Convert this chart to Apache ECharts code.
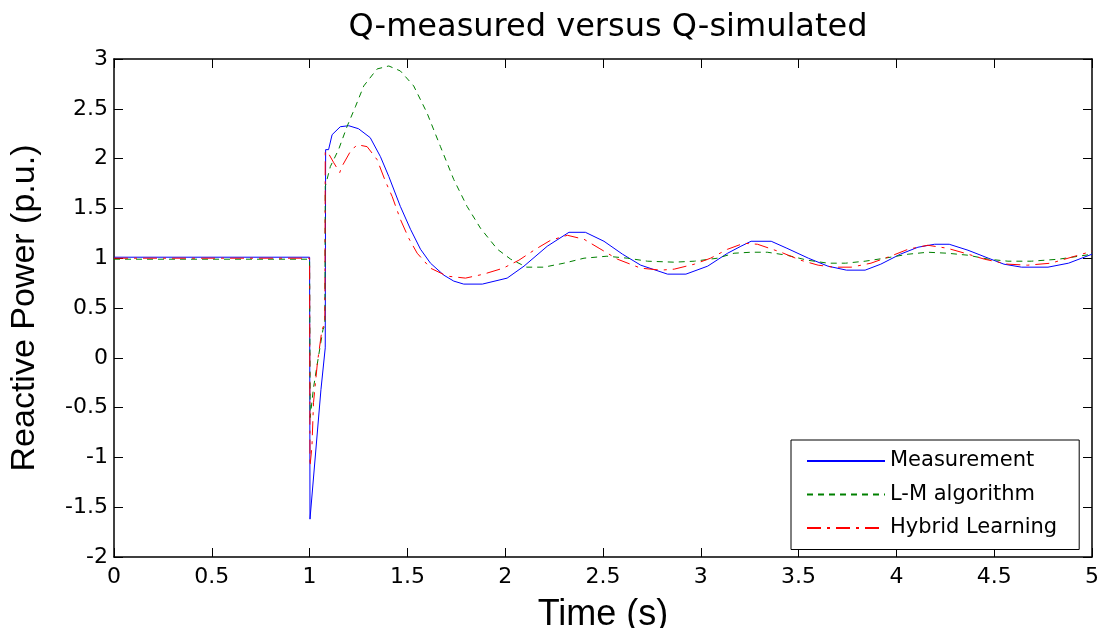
<!DOCTYPE html>
<html>
<head>
<meta charset="utf-8">
<script src="https://cdn.jsdelivr.net/npm/echarts@6/dist/echarts.min.js"></script>
<style>
html,body{margin:0;padding:0;background:#fff;}
#chart{width:1105px;height:628px;}
</style>
</head>
<body>
<div id="chart"></div>
<script>
// ---- data ----
var seriesNames = ['Measurement', 'L-M algorithm', 'Hybrid Learning'];

var measX = [0, 1.0, 1.002, 1.058, 1.08, 1.082, 1.097, 1.115, 1.157, 1.2, 1.25, 1.31, 1.362, 1.405, 1.464, 1.516, 1.567, 1.618, 1.686, 1.737, 1.788, 1.883, 2.01, 2.096, 2.215, 2.326, 2.41, 2.505, 2.6, 2.693, 2.83, 2.924, 3.035, 3.137, 3.205, 3.257, 3.36, 3.44, 3.55, 3.65, 3.745, 3.84, 3.92, 4.02, 4.11, 4.195, 4.27, 4.366, 4.47, 4.55, 4.64, 4.775, 4.88, 5.0];
var measY = [1.01, 1.01, -1.62, -0.32, 0.10, 2.09, 2.09, 2.24, 2.32, 2.33, 2.30, 2.21, 2.02, 1.82, 1.52, 1.29, 1.09, 0.95, 0.83, 0.77, 0.74, 0.74, 0.80, 0.92, 1.12, 1.26, 1.26, 1.17, 1.04, 0.93, 0.84, 0.84, 0.92, 1.05, 1.12, 1.17, 1.17, 1.10, 1.00, 0.92, 0.88, 0.88, 0.94, 1.04, 1.11, 1.14, 1.14, 1.08, 1.00, 0.94, 0.91, 0.91, 0.95, 1.04];

var lmX = [0, 1.0, 1.003, 1.02, 1.046, 1.068, 1.078, 1.08, 1.106, 1.148, 1.191, 1.234, 1.277, 1.345, 1.405, 1.464, 1.532, 1.60, 1.669, 1.737, 1.805, 1.874, 1.96, 2.028, 2.11, 2.198, 2.30, 2.403, 2.52, 2.625, 2.727, 2.864, 2.967, 3.085, 3.17, 3.257, 3.34, 3.44, 3.545, 3.65, 3.74, 3.84, 3.94, 4.06, 4.16, 4.26, 4.366, 4.47, 4.57, 4.69, 4.83, 5.0];
var lmY = [0.99, 0.99, -0.60, -0.30, 0.02, 0.28, 0.33, 1.72, 1.92, 2.09, 2.32, 2.52, 2.73, 2.90, 2.93, 2.88, 2.73, 2.46, 2.12, 1.79, 1.52, 1.30, 1.09, 0.99, 0.91, 0.91, 0.95, 1.00, 1.02, 1.00, 0.97, 0.96, 0.97, 1.00, 1.05, 1.06, 1.06, 1.03, 0.98, 0.95, 0.95, 0.97, 1.00, 1.04, 1.06, 1.05, 1.03, 0.99, 0.97, 0.97, 0.99, 1.04];

var hybX = [0, 1.0, 1.002, 1.012, 1.02, 1.04, 1.063, 1.078, 1.08, 1.097, 1.123, 1.154, 1.165, 1.208, 1.243, 1.294, 1.345, 1.388, 1.422, 1.464, 1.507, 1.55, 1.618, 1.703, 1.797, 1.89, 1.99, 2.07, 2.155, 2.232, 2.318, 2.403, 2.48, 2.574, 2.693, 2.796, 2.864, 2.967, 3.05, 3.137, 3.22, 3.29, 3.41, 3.51, 3.60, 3.68, 3.77, 3.87, 3.97, 4.06, 4.16, 4.26, 4.35, 4.45, 4.57, 4.67, 4.79, 4.895, 5.0];
var hybY = [1.0, 1.0, -1.09, -0.89, -0.45, -0.05, 0.28, 0.35, 2.07, 2.05, 1.96, 1.86, 1.92, 2.07, 2.14, 2.12, 1.99, 1.77, 1.62, 1.39, 1.20, 1.05, 0.90, 0.82, 0.80, 0.84, 0.90, 0.98, 1.09, 1.18, 1.23, 1.19, 1.10, 0.99, 0.90, 0.88, 0.89, 0.94, 1.00, 1.09, 1.15, 1.14, 1.06, 0.98, 0.93, 0.91, 0.91, 0.95, 1.02, 1.09, 1.13, 1.10, 1.05, 0.99, 0.94, 0.93, 0.95, 1.01, 1.07];

var titleText = 'Q-measured versus Q-simulated';
var xName = 'Time (s)';
var yName = 'Reactive Power (p.u.)';

function pairs(xs, ys) {
  var out = [];
  for (var i = 0; i < xs.length; i++) out.push([xs[i], ys[i]]);
  return out;
}

var tickFont = 'DejaVu Sans';
var chart = echarts.init(document.getElementById('chart'), null, {renderer: 'canvas'});

var commonX = {
  type: 'value', min: 0, max: 5, interval: 0.5,
  splitLine: {show: false},
  axisLine: {show: true, onZero: false, lineStyle: {color: '#000', width: 1.5}},
  axisTick: {show: true, inside: true, length: 9, lineStyle: {color: '#000'}}
};
var commonY = {
  type: 'value', min: -2, max: 3, interval: 0.5,
  splitLine: {show: false},
  axisLine: {show: true, onZero: false, lineStyle: {color: '#000', width: 1.5}},
  axisTick: {show: true, inside: true, length: 9, lineStyle: {color: '#000'}}
};

var option = {
  animation: false,
  backgroundColor: '#fff',
  title: {
    text: titleText,
    left: 603, top: 7, textAlign: 'center',
    textStyle: {fontFamily: tickFont, fontSize: 32, fontWeight: 'normal', color: '#000'}
  },
  grid: {left: 114, right: 13, top: 59, bottom: 71, containLabel: false, outerBoundsMode: 'none'},
  legend: {
    orient: 'vertical',
    left: 791, top: 440,
    itemWidth: 78, itemHeight: 14, itemGap: 12.5,
    padding: [10.5, 22, 11, 15],
    borderColor: '#000', borderWidth: 1,
    backgroundColor: '#fff',
    itemStyle: {opacity: 0},
    data: seriesNames,
    textStyle: {fontFamily: tickFont, fontSize: 21, color: '#000'}
  },
  xAxis: [
    Object.assign({}, commonX, {
      position: 'bottom',
      name: xName, nameLocation: 'middle', nameGap: 40,
      nameTextStyle: {fontFamily: 'Liberation Sans', fontSize: 36, color: '#000'},
      axisLabel: {show: true, margin: 9, fontFamily: tickFont, fontSize: 22, color: '#000'}
    }),
    Object.assign({}, commonX, {position: 'top', axisLabel: {show: false}})
  ],
  yAxis: [
    Object.assign({}, commonY, {
      position: 'left',
      name: yName, nameLocation: 'middle', nameGap: 72,
      nameTextStyle: {fontFamily: 'Liberation Sans', fontSize: 34, color: '#000'},
      axisLabel: {show: true, margin: 6, fontFamily: tickFont, fontSize: 22, color: '#000'}
    }),
    Object.assign({}, commonY, {position: 'right', axisLabel: {show: false}})
  ],
  series: [
    {
      name: seriesNames[0], type: 'line', xAxisIndex: 0, yAxisIndex: 0,
      data: pairs(measX, measY), showSymbol: false, symbol: 'none',
      lineStyle: {color: '#0000ff', width: 1, type: 'solid'},
      itemStyle: {color: '#0000ff'}
    },
    {
      name: seriesNames[1], type: 'line', xAxisIndex: 0, yAxisIndex: 0,
      data: pairs(lmX, lmY), showSymbol: false, symbol: 'none',
      lineStyle: {color: '#008000', width: 1, type: [6, 5]},
      itemStyle: {color: '#008000'}
    },
    {
      name: seriesNames[2], type: 'line', xAxisIndex: 0, yAxisIndex: 0,
      data: pairs(hybX, hybY), showSymbol: false, symbol: 'none',
      lineStyle: {color: '#ff0000', width: 1, type: [14, 6, 3, 6]},
      itemStyle: {color: '#ff0000'}
    }
  ]
};
chart.setOption(option);
</script>
</body>
</html>
